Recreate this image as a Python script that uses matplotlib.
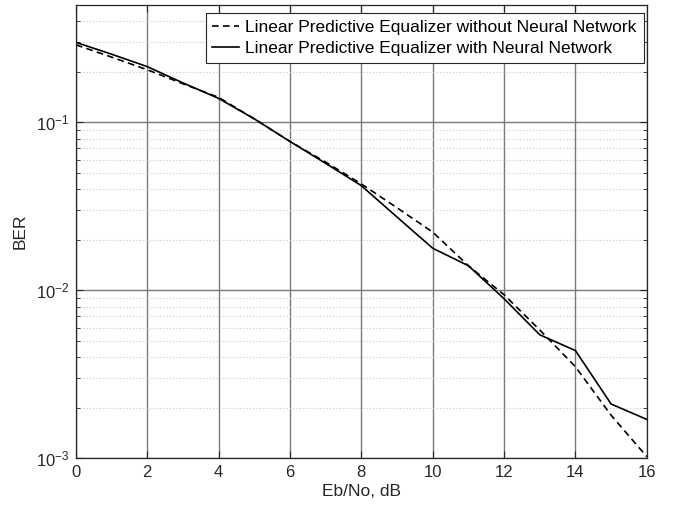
import matplotlib
matplotlib.use('Agg')
import matplotlib.pyplot as plt
from matplotlib.ticker import LogLocator, NullFormatter

plt.rcParams['font.family'] = ['Liberation Sans', 'DejaVu Sans']
plt.rcParams['mathtext.fontset'] = 'custom'
plt.rcParams['mathtext.rm'] = 'Liberation Sans'
plt.rcParams['mathtext.default'] = 'regular'

# Данные
ebno = [0, 1, 2, 3, 4, 5, 6, 7, 8, 9, 10, 11, 12, 13, 14, 15, 16]
ber_without_nn = [0.29, 0.245, 0.206, 0.170, 0.141, 0.105, 0.077, 0.058, 0.043,
                  0.031, 0.0222, 0.0140, 0.0094, 0.0058, 0.0035, 0.0018, 0.00102]
ber_with_nn = [0.30, 0.255, 0.215, 0.172, 0.139, 0.105, 0.077, 0.057, 0.042,
               0.0273, 0.0178, 0.0140, 0.0089, 0.00543, 0.00437, 0.0021, 0.0017]

labels = ['Linear Predictive Equalizer without Neural Network',
          'Linear Predictive Equalizer with Neural Network']

fig = plt.figure(figsize=(6.78, 5.13), dpi=100)
ax = fig.add_axes([0.112, 0.107, 0.842, 0.883])

ax.semilogy(ebno, ber_without_nn, color='k', ls=(0, (4, 2.6)), lw=1.2, label=labels[0])
ax.semilogy(ebno, ber_with_nn, 'k-', lw=1.2, label=labels[1])

ax.set_xlim(0, 16)
ax.set_ylim(1e-3, 0.5)
ax.set_xticks(range(0, 17, 2))
ax.yaxis.set_major_locator(LogLocator(base=10, numticks=10))
ax.yaxis.set_minor_locator(LogLocator(base=10, subs=range(2, 10), numticks=10))
ax.yaxis.set_minor_formatter(NullFormatter())

# Сетка в стиле MATLAB
ax.grid(True, which='major', color='#7a7a7a', lw=1.0, ls='-')
ax.grid(True, which='minor', axis='y', color='#c8c8c8', lw=0.8, ls=(0, (1, 2)))
ax.set_axisbelow(True)

ax.tick_params(which='both', direction='in', top=True, right=True,
               labelsize=12, colors='#262626', labelcolor='#262626')
ax.tick_params(which='major', length=5, pad=5)
ax.tick_params(which='minor', length=3)
for s in ax.spines.values():
    s.set_color('#262626')
    s.set_linewidth(0.9)

ax.set_xlabel('Eb/No, dB', fontsize=12.5, color='#262626', labelpad=3)
ax.set_ylabel('BER', fontsize=12.5, color='#262626', labelpad=6)

leg = ax.legend(loc='upper right', bbox_to_anchor=(0.9947, 0.982),
                fontsize=12.5, frameon=True, fancybox=False,
                framealpha=1, edgecolor='#262626', borderpad=0.4,
                handlelength=1.5, handletextpad=0.4, labelspacing=0.3,
                borderaxespad=0)
leg.get_frame().set_linewidth(0.8)

fig.savefig('out.png', dpi=100)
